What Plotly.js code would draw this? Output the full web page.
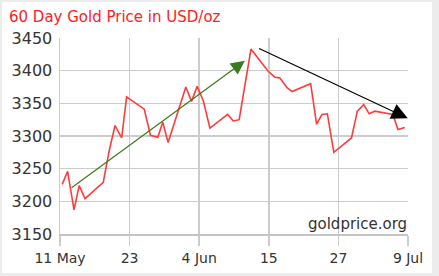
<!DOCTYPE html>
<html>
<head>
<meta charset="utf-8">
<script src="https://cdn.plot.ly/plotly-3.0.1.min.js"></script>
<style>
  html, body { margin: 0; padding: 0; background: #ececec; width: 439px; height: 276px; overflow: hidden; }
  #chart { position: absolute; left: 2px; top: 2px; width: 430px; height: 271px; background: #ffffff; }
</style>
</head>
<body>
<div id="chart"></div>
<script>
// ---- data ----
const dates = [
  '2025-05-11 09:00','2025-05-12 07:00','2025-05-13 09:00','2025-05-14 06:00','2025-05-15 06:00',
  '2025-05-18 08:00','2025-05-19 08:00','2025-05-20 08:00','2025-05-21 11:00','2025-05-22 07:00',
  '2025-05-25 07:00','2025-05-26 08:00','2025-05-27 14:00','2025-05-28 10:00','2025-05-29 08:00',
  '2025-06-01 08:00','2025-06-02 07:00','2025-06-03 06:00','2025-06-04 07:00','2025-06-05 10:00',
  '2025-06-08 10:00','2025-06-09 09:00','2025-06-10 09:00','2025-06-12 09:00',
  '2025-06-15 07:00','2025-06-16 10:00','2025-06-17 06:00','2025-06-18 12:00','2025-06-19 08:00',
  '2025-06-22 12:00','2025-06-23 12:00','2025-06-24 10:00','2025-06-25 08:00','2025-06-26 10:00',
  '2025-06-29 10:00','2025-06-30 10:00','2025-07-01 12:00','2025-07-02 10:00','2025-07-03 09:00',
  '2025-07-06 11:00','2025-07-07 07:00','2025-07-08 11:00'
];
const prices = [
  3226, 3246, 3187, 3224, 3204,
  3229, 3277, 3316, 3297, 3360,
  3341, 3301, 3298, 3321, 3290,
  3375, 3353, 3376, 3354, 3312,
  3333, 3323, 3325, 3433,
  3399, 3390, 3389, 3374, 3368,
  3380, 3318, 3333, 3334, 3275,
  3297, 3338, 3348, 3334, 3338,
  3333, 3310, 3313
];
const xRange = ['2025-05-11', '2025-07-09'];
const yTicks = [3150, 3200, 3250, 3300, 3350, 3400, 3450];
const xTickText = ['11 May', '23', '4 Jun', '15', '27', '9 Jul'];
// trend arrows: [tailDate, tailPrice, headDate, headPrice]
const upTrend = ['2025-05-12 17:00', 3219, '2025-06-11 08:00', 3415];
const downTrend = ['2025-06-13 12:00', 3435, '2025-07-08 23:00', 3327];

// evenly spaced x ticks over the range
const t0 = new Date(xRange[0] + 'T00:00:00Z').getTime();
const t1 = new Date(xRange[1] + 'T00:00:00Z').getTime();
const xTickVals = xTickText.map((_, i) => {
  const d = new Date(t0 + (t1 - t0) * i / (xTickText.length - 1));
  return d.toISOString().replace('T', ' ').replace('Z', '');
});

const font = 'DejaVu Sans, Verdana, sans-serif';

const trace = {
  x: dates, y: prices, type: 'scatter', mode: 'lines',
  line: { color: '#ff3c3c', width: 1.6 },
  hoverinfo: 'skip'
};

function arrow(a, color, size) {
  return {
    x: a[2], y: a[3], ax: a[0], ay: a[1],
    xref: 'x', yref: 'y', axref: 'x', ayref: 'y',
    text: '', showarrow: true, arrowhead: 2, arrowsize: size,
    arrowwidth: 1.2, arrowcolor: color, standoff: 0, startstandoff: 0
  };
}

const layout = {
  width: 430, height: 271,
  margin: { l: 58, r: 24, t: 36, b: 39 },
  paper_bgcolor: '#ffffff', plot_bgcolor: '#ffffff',
  showlegend: false,
  title: {
    text: '60 Day Gold Price in USD/oz',
    font: { family: font, size: 15, color: '#ff2020' },
    xref: 'container', x: 7 / 430, xanchor: 'left',
    yref: 'container', y: 1 - 15 / 271, yanchor: 'middle'
  },
  xaxis: {
    type: 'date', range: xRange,
    tickmode: 'array', tickvals: xTickVals, ticktext: xTickText,
    showgrid: true, gridcolor: '#cccccc', gridwidth: 1.5,
    ticks: 'outside', ticklen: 10, tickcolor: '#cccccc', tickwidth: 1.5,
    showline: true, linecolor: '#c4c4c4', linewidth: 2,
    zeroline: false,
    tickfont: { family: font, size: 14, color: '#333333' },
    fixedrange: true
  },
  yaxis: {
    range: [3150, 3450],
    tickmode: 'array', tickvals: yTicks,
    showgrid: true, gridcolor: '#cccccc', gridwidth: 1.5,
    ticks: '', ticklabelstandoff: 3,
    showline: true, linecolor: '#cccccc', linewidth: 1.5,
    zeroline: false,
    tickfont: { family: font, size: 16, color: '#333333' },
    fixedrange: true
  },
  annotations: [
    arrow(upTrend, '#3b7a1c', 2.3),
    arrow(downTrend, '#000000', 2.7),
    {
      text: 'goldprice.org', xref: 'paper', yref: 'paper', x: 1, y: 0,
      xanchor: 'right', yanchor: 'bottom', showarrow: false, borderpad: 0,
      font: { family: font, size: 15, color: '#333333' }
    }
  ]
};

Plotly.newPlot('chart', [trace], layout, { staticPlot: true, displayModeBar: false });
</script>
</body>
</html>
